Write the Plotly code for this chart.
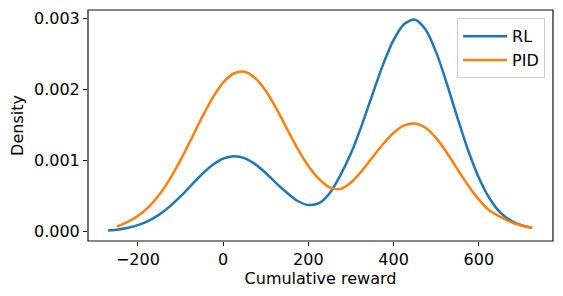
import plotly.graph_objects as go

rl_x = [-270, -250, -225, -200, -175, -150, -125, -100, -75, -50, -25, 0, 25, 50, 75, 100, 125, 150, 175, 200,
        225, 250, 275, 300, 325, 350, 375, 400, 425, 450, 475, 500, 525, 550, 575, 600, 625, 650, 675, 700, 725]
rl_y = [0.000016, 0.000027, 0.000051, 0.000091, 0.000152, 0.000239, 0.000354, 0.000494, 0.000649, 0.000803,
        0.000936, 0.001026, 0.00106, 0.001033, 0.000948, 0.000824, 0.000678, 0.000545, 0.00043, 0.000375,
        0.0004, 0.00054, 0.00079, 0.001099, 0.001489, 0.001921, 0.002342, 0.002693, 0.002917, 0.002977,
        0.002838, 0.002518, 0.002077, 0.001595, 0.001139, 0.000757, 0.000468, 0.000269, 0.000155, 0.00009, 0.000055]

pid_x = [-249, -225, -200, -175, -150, -125, -100, -75, -50, -25, 0, 25, 50, 75, 100, 125, 150, 175, 200,
         225, 250, 275, 300, 325, 350, 375, 400, 425, 450, 475, 500, 525, 550, 575, 600, 625, 650, 675, 700, 725]
pid_y = [0.00007, 0.000132, 0.000218, 0.000344, 0.000517, 0.000738, 0.001003, 0.001298, 0.001599, 0.001874,
         0.002092, 0.002221, 0.002246, 0.002158, 0.001979, 0.001727, 0.001442, 0.001163, 0.000923,
         0.00074, 0.00062, 0.0006, 0.00069, 0.00085, 0.001041, 0.001227, 0.001388, 0.001493, 0.001519,
         0.001459, 0.001313, 0.001107, 0.000875, 0.000648, 0.000449, 0.000295, 0.00021, 0.000135, 0.000085, 0.000055]

x_ticks = [-200, 0, 200, 400, 600]
y_ticks = [0.0, 0.001, 0.002, 0.003]

FONT = "DejaVu Sans"
FRAME = "#111111"

fig = go.Figure()
fig.add_trace(go.Scatter(x=rl_x, y=rl_y, mode="lines", name="RL",
                         line=dict(color="#1f77b4", width=2.5, shape="spline", smoothing=0.8)))
fig.add_trace(go.Scatter(x=pid_x, y=pid_y, mode="lines", name="PID",
                         line=dict(color="#ff7f0e", width=2.5, shape="spline", smoothing=0.8)))

# the page body adds an 8px margin, so the figure is drawn 8px smaller and offset
fig.update_layout(
    width=555, height=288,
    margin=dict(l=80, r=10, t=2, b=55, autoexpand=False),
    paper_bgcolor="white", plot_bgcolor="white",
    font=dict(family=FONT, size=16, color="black"),
    showlegend=True,
    legend=dict(x=0.983, y=0.964, xanchor="right", yanchor="top",
                bgcolor="rgba(255,255,255,0.8)", bordercolor="#cccccc", borderwidth=1,
                font=dict(size=16), itemwidth=44, tracegroupgap=2),
    xaxis=dict(range=[-317, 774], tickvals=x_ticks, ticks="outside", ticklen=4,
               tickcolor=FRAME, tickwidth=1.2, showline=False,
               showgrid=False, zeroline=False, automargin=False,
               title=dict(text="Cumulative reward", font=dict(size=16), standoff=4)),
    yaxis=dict(range=[-0.000132, 0.003113], tickvals=y_ticks, tickformat=".3f",
               ticks="outside", ticklen=4, tickcolor=FRAME, tickwidth=1.2, showline=False,
               showgrid=False, zeroline=False, automargin=False,
               title=dict(text="Density", font=dict(size=16), standoff=8)),
    shapes=[dict(type="rect", xref="paper", yref="paper", x0=0, y0=0, x1=1, y1=1,
                 line=dict(color=FRAME, width=1.2), layer="above")],
)

fig.write_html("out.html")
